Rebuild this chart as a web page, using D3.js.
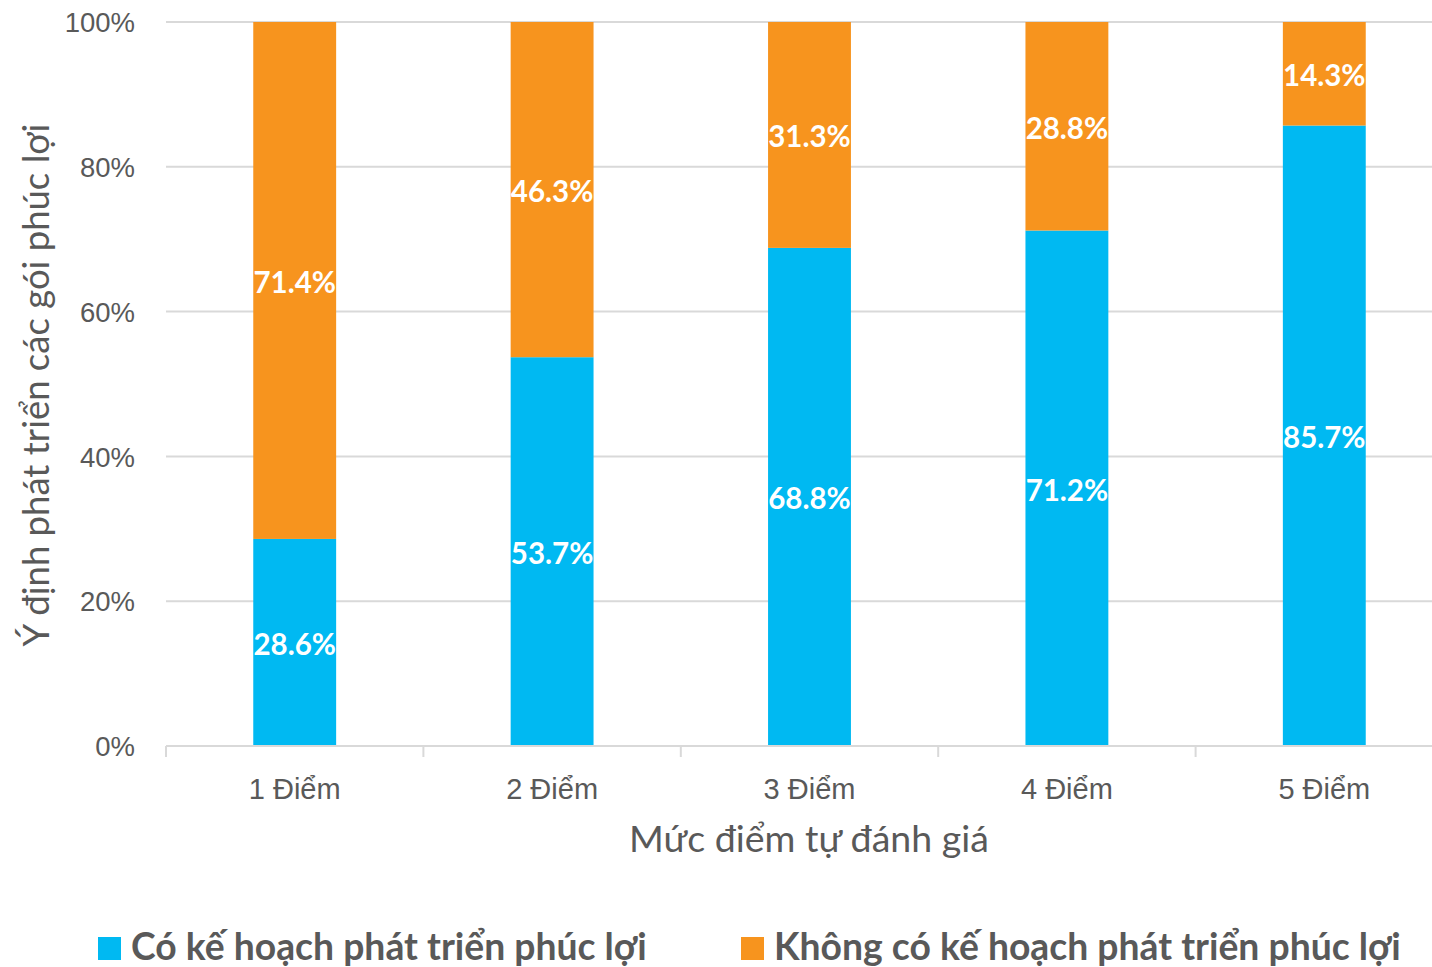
<!DOCTYPE html>
<html>
<head>
<meta charset="utf-8">
<script src="https://cdn.jsdelivr.net/npm/d3@7"></script>
<style>
  html, body { margin: 0; padding: 0; background: #fff; }
  svg { display: block; font-family: Lato, "Open Sans", "Noto Sans", sans-serif; }
</style>
</head>
<body>
<svg id="chart" width="1432" height="967"></svg>
<script>
const categories = ["1 Điểm", "2 Điểm", "3 Điểm", "4 Điểm", "5 Điểm"];
const seriesNames = ["Có kế hoạch phát triển phúc lợi", "Không có kế hoạch phát triển phúc lợi"];
const coValues = [28.6, 53.7, 68.8, 71.2, 85.7];
const khongValues = [71.4, 46.3, 31.3, 28.8, 14.3];
const yTicks = [0, 20, 40, 60, 80, 100];
const colors = ["#00B9F2", "#F7941E"];
const xTitle = "Mức điểm tự đánh giá";
const yTitle = "Ý định phát triển các gói phúc lợi";

(function () {
const svg = d3.select("#chart");
const pLeft = 166, pTop = 22, pBottom = 746;
const bandStep = 257.4;
const pRight = pLeft + bandStep * categories.length;

const x = d3.scaleBand().domain(categories).range([pLeft, pRight]).paddingInner(0.678).paddingOuter(0.339);
const y = d3.scaleLinear().domain([0, 100]).range([pBottom, pTop]);

// gridlines
svg.append("g").selectAll("line").data(yTicks.filter(d => d > 0)).join("line")
  .attr("x1", pLeft).attr("x2", 1432)
  .attr("y1", d => y(d)).attr("y2", d => y(d))
  .attr("stroke", "#D9D9D9").attr("stroke-width", 2);

// y tick labels
const yAxis = d3.axisLeft(y).tickValues(yTicks).tickFormat(d => d + "%").tickSize(0).tickPadding(0);
const yg = svg.append("g").attr("transform", `translate(${pLeft - 31},0)`).call(yAxis);
yg.select(".domain").remove();
yg.selectAll("text").attr("font-size", 27.5).attr("fill", "#595959").attr("font-family", "inherit").attr("dy", "0.35em");

// stacked bars
const stackData = categories.map((c, i) => ({cat: c, co: coValues[i], khong: khongValues[i]}));
const stack = d3.stack().keys(["co", "khong"])(stackData);

const layers = svg.append("g").selectAll("g").data(stack).join("g").attr("fill", (d, i) => colors[i]);
layers.selectAll("rect").data(d => d).join("rect")
  .attr("x", d => x(d.data.cat))
  .attr("width", x.bandwidth())
  .attr("y", d => y(Math.min(d[1], 100)))
  .attr("height", d => y(d[0]) - y(Math.min(d[1], 100)));

// data labels
const labelG = svg.append("g");
stack.forEach((layer) => {
  labelG.selectAll(null).data(layer).join("text")
    .attr("x", d => x(d.data.cat) + x.bandwidth() / 2)
    .attr("y", d => y((d[0] + Math.min(d[1], 100)) / 2))
    .attr("dy", "0.42em")
    .attr("text-anchor", "middle")
    .attr("font-size", 29.5).attr("font-weight", "bold").attr("fill", "#fff")
    .text(d => (d[1] - d[0]).toFixed(1) + "%");
});

// x axis
const xAxis = d3.axisBottom(x).tickSize(0).tickPadding(0);
const xg = svg.append("g").attr("transform", `translate(0,${pBottom})`).call(xAxis);
xg.select(".domain").remove();
xg.selectAll("text").attr("font-size", 29).attr("fill", "#595959").attr("font-family", "inherit").attr("dy", 0).attr("y", 53);
svg.append("line").attr("x1", pLeft).attr("x2", 1432).attr("y1", pBottom).attr("y2", pBottom)
  .attr("stroke", "#D9D9D9").attr("stroke-width", 2);
svg.append("g").selectAll("line").data(d3.range(categories.length + 1)).join("line")
  .attr("x1", i => pLeft + i * x.step()).attr("x2", i => pLeft + i * x.step())
  .attr("y1", pBottom).attr("y2", pBottom + 11)
  .attr("stroke", "#D9D9D9").attr("stroke-width", 2);

// axis titles
svg.append("text").attr("x", 809).attr("y", 852)
  .attr("text-anchor", "middle").attr("font-size", 37.5).attr("fill", "#595959").text(xTitle);
svg.append("text").attr("transform", `translate(49,385) rotate(-90)`)
  .attr("text-anchor", "middle").attr("font-size", 36.5).attr("fill", "#595959").text(yTitle);

// legend
const legendX = [98, 741];
const lg = svg.append("g");
seriesNames.forEach((name, i) => {
  lg.append("rect").attr("x", legendX[i]).attr("y", 937).attr("width", 23).attr("height", 23).attr("fill", colors[i]);
  lg.append("text").attr("x", legendX[i] + 33).attr("y", 960)
    .attr("font-size", 37.3).attr("font-weight", "bold").attr("fill", "#595959").text(name);
});
})();
</script>
</body>
</html>
